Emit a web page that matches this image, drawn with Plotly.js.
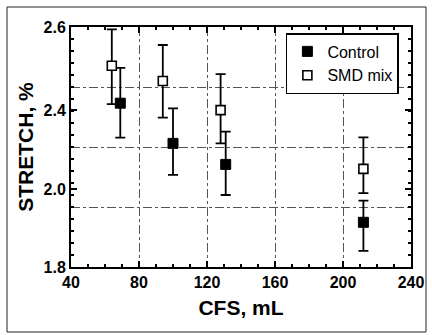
<!DOCTYPE html>
<html>
<head>
<meta charset="utf-8">
<script src="https://cdn.plot.ly/plotly-3.0.1.min.js"></script>
<style>
html,body{margin:0;padding:0;background:#fff;}
#chart{width:432px;height:335px;}
</style>
</head>
<body>
<div id="chart"></div>
<script>
// ---- data ----
const cfsControl = [69, 100, 131, 212];
const stretchControl = [2.346, 2.212, 2.142, 1.949];
const controlErrPlus = [0.118, 0.117, 0.109, 0.072];
const controlErrMinus = [0.115, 0.105, 0.102, 0.095];

const cfsSMD = [64, 94, 128, 212];
const stretchSMD = [2.471, 2.420, 2.323, 2.127];
const smdErrPlus = [0.121, 0.120, 0.120, 0.105];
const smdErrMinus = [0.128, 0.122, 0.111, 0.081];

const xTickVals = [40, 80, 120, 160, 200, 240];
const xTickText = ['40', '80', '120', '160', '200', '240'];
// y tick labels sit where the reference prints them
const yTickVals = [2.6, 2.323, 2.06, 1.8];
const yTickText = ['2.6', '2.4', '2.0', '1.8'];
const yGridVals = [2.0, 2.2, 2.4];

const seriesNames = ['Control', 'SMD mix'];

const font = 'Liberation Sans, Arial, sans-serif';
const bold = arr => arr.map(t => '<b>' + t + '</b>');

const traces = [
  {
    x: cfsControl, y: stretchControl, name: seriesNames[0],
    type: 'scatter', mode: 'markers',
    marker: {symbol: 'square', size: 10, color: '#000', line: {color: '#000', width: 1}},
    error_y: {type: 'data', symmetric: false, array: controlErrPlus, arrayminus: controlErrMinus,
              color: '#000', thickness: 1.8, width: 5}
  },
  {
    x: cfsSMD, y: stretchSMD, name: seriesNames[1],
    type: 'scatter', mode: 'markers',
    marker: {symbol: 'square', size: 9, color: '#fff', line: {color: '#000', width: 1.6}},
    error_y: {type: 'data', symmetric: false, array: smdErrPlus, arrayminus: smdErrMinus,
              color: '#000', thickness: 1.8, width: 5}
  },
  // invisible trace to carry the horizontal grid on a second y axis
  {x: [40], y: [2.2], yaxis: 'y2', type: 'scatter', mode: 'markers',
   marker: {opacity: 0}, showlegend: false, hoverinfo: 'skip'}
];

const layout = {
  width: 432, height: 335,
  margin: {l: 71, r: 21, t: 27, b: 68},
  paper_bgcolor: '#fff', plot_bgcolor: '#fff',
  font: {family: font, color: '#000'},
  showlegend: true,
  legend: {
    x: 0.632, y: 0.975, xanchor: 'left', yanchor: 'top',
    bgcolor: '#fff', bordercolor: '#000', borderwidth: 1.5,
    font: {family: font, size: 16, color: '#000'},
    itemwidth: 30, tracegroupgap: 0
  },
  xaxis: {
    range: [40, 240], tickmode: 'array', tickvals: xTickVals, ticktext: bold(xTickText),
    ticks: 'inside', ticklen: 6, tickwidth: 1.5, tickcolor: '#000',
    showline: true, linecolor: '#000', linewidth: 2, mirror: 'ticks',
    showgrid: true, gridcolor: '#555', gridwidth: 1, griddash: 'dashdot',
    zeroline: false,
    tickfont: {family: font, size: 16, color: '#000'},
    minor: {tickmode: 'linear', tick0: 40, dtick: 10, ticks: 'inside', ticklen: 3, tickcolor: '#000', showgrid: false},
    title: {text: '<b>CFS, mL</b>', font: {family: font, size: 21, color: '#000'}, standoff: 10}
  },
  yaxis: {
    range: [1.8, 2.6], tickmode: 'array', tickvals: yTickVals, ticktext: bold(yTickText),
    ticks: 'inside', ticklen: 6, tickwidth: 1.5, tickcolor: '#000',
    showline: true, linecolor: '#000', linewidth: 2, mirror: 'ticks',
    showgrid: false, zeroline: false,
    tickfont: {family: font, size: 16, color: '#000'},
    minor: {tickmode: 'linear', tick0: 1.8, dtick: 0.04, ticks: 'inside', ticklen: 3, tickcolor: '#000', showgrid: false},
    title: {text: '<b>STRETCH, %</b>', font: {family: font, size: 21, color: '#000'}, standoff: 4}
  },
  yaxis2: {
    range: [1.8, 2.6], overlaying: 'y', side: 'left',
    tickmode: 'array', tickvals: yGridVals, showticklabels: false, ticks: '',
    showgrid: true, gridcolor: '#555', gridwidth: 1, griddash: 'dashdot',
    showline: false, zeroline: false
  },
  shapes: [
    {type: 'rect', xref: 'paper', yref: 'paper',
     x0: (7 - 71) / 340, x1: (426 - 71) / 340, y0: (267 - 332) / 240, y1: (267 - 7) / 240,
     line: {color: '#222', width: 1}, fillcolor: 'rgba(0,0,0,0)', layer: 'below'}
  ]
};

Plotly.newPlot('chart', traces, layout, {displayModeBar: false, staticPlot: true});
</script>
</body>
</html>
